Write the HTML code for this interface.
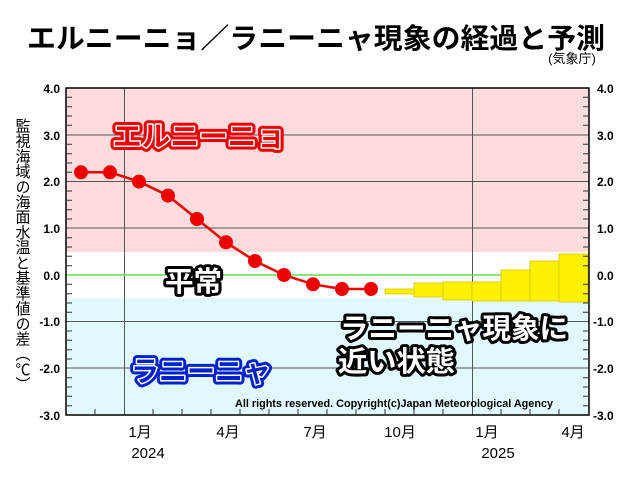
<!DOCTYPE html>
<html><head><meta charset="utf-8"><style>
html,body{margin:0;padding:0;background:#fff;}
svg{display:block;font-family:"Liberation Sans","Noto Sans CJK JP",sans-serif;}
</style></head><body>
<svg width="640" height="480" viewBox="0 0 640 480" xmlns="http://www.w3.org/2000/svg">
<text x="316" y="48" font-size="28" font-weight="bold" text-anchor="middle" textLength="578" lengthAdjust="spacingAndGlyphs" fill="#000">エルニーニョ／ラニーニャ現象の経過と予測</text>
<text x="572" y="63" font-size="13" text-anchor="middle" fill="#000">(気象庁)</text>
<!-- background bands -->
<rect x="66" y="88" width="523" height="164" fill="#fcdcdc"/>
<rect x="66" y="252" width="523" height="46" fill="#fff"/>
<rect x="66" y="298" width="523" height="117" fill="#e2f9fc"/>
<!-- grid -->
<g stroke="#555" stroke-width="1">
<line x1="66" x2="589" y1="135" y2="135"/>
<line x1="66" x2="589" y1="181.5" y2="181.5"/>
<line x1="66" x2="589" y1="228" y2="228"/>
<line x1="66" x2="589" y1="321.5" y2="321.5"/>
<line x1="66" x2="589" y1="368" y2="368"/>
<line x1="124.5" x2="124.5" y1="88" y2="415"/>
<line x1="472.5" x2="472.5" y1="88" y2="415"/>
</g>
<line x1="66" x2="589" y1="275" y2="275" stroke="#66dd55" stroke-width="1.5"/>
<!-- yellow forecast -->
<g fill="#fff200" stroke="#d8c400" stroke-width="0.8">
<rect x="385" y="289" width="29" height="5"/>
<rect x="414" y="283" width="29" height="14"/>
<rect x="443" y="282" width="29" height="18"/>
<rect x="472" y="282" width="29" height="19"/>
<rect x="501" y="270" width="29" height="31"/>
<rect x="530" y="261" width="29" height="40"/>
<rect x="559" y="254" width="29" height="48"/>
</g>
<!-- series -->
<polyline fill="none" stroke="#ee0000" stroke-width="2.5" points="81,172.3 110,172.3 139,181.6 168,195.6 197,219 226,242.3 255,261 284,275 313,284.3 342,289 371,289"/>
<g fill="#ee0000">
<circle cx="81" cy="172.3" r="7"/><circle cx="110" cy="172.3" r="7"/><circle cx="139" cy="181.6" r="7"/><circle cx="168" cy="195.6" r="7"/><circle cx="197" cy="219" r="7"/><circle cx="226" cy="242.3" r="7"/><circle cx="255" cy="261" r="7"/><circle cx="284" cy="275" r="7"/><circle cx="313" cy="284.3" r="7"/><circle cx="342" cy="289" r="7"/><circle cx="371" cy="289" r="7"/>
</g>
<!-- frame -->
<rect x="66" y="88" width="523" height="327" fill="none" stroke="#000" stroke-width="1.5"/>
<g stroke="#333" stroke-width="1">
<path d="M66,97.3h6M66,106.7h6M66,116h6M66,125.3h6M66,144.3h6M66,153.7h6M66,163h6M66,172.3h6M66,191h6M66,200.3h6M66,209.7h6M66,219h6M66,237.7h6M66,247h6M66,256.3h6M66,265.7h6M66,284.3h6M66,293.7h6M66,303h6M66,312.3h6M66,331h6M66,340.3h6M66,349.7h6M66,359h6M66,377.7h6M66,387h6M66,396.3h6M66,405.7h6"/>
<path d="M589,97.3h-6M589,106.7h-6M589,116h-6M589,125.3h-6M589,144.3h-6M589,153.7h-6M589,163h-6M589,172.3h-6M589,191h-6M589,200.3h-6M589,209.7h-6M589,219h-6M589,237.7h-6M589,247h-6M589,256.3h-6M589,265.7h-6M589,284.3h-6M589,293.7h-6M589,303h-6M589,312.3h-6M589,331h-6M589,340.3h-6M589,349.7h-6M589,359h-6M589,377.7h-6M589,387h-6M589,396.3h-6M589,405.7h-6"/>
<path d="M95,415v-6M153,415v-6M182,415v-6M211,415v-6M240,415v-6M269,415v-6M298,415v-6M327,415v-6M356,415v-6M385,415v-6M414,415v-6M443,415v-6M501,415v-6M530,415v-6M559,415v-6"/>
</g>
<!-- y labels -->
<g font-size="12" font-weight="bold" text-anchor="end" fill="#000">
<text x="60" y="93">4.0</text><text x="60" y="140">3.0</text><text x="60" y="186">2.0</text><text x="60" y="233">1.0</text><text x="60" y="280">0.0</text><text x="60" y="326">-1.0</text><text x="60" y="373">-2.0</text><text x="60" y="420">-3.0</text>
</g>
<g font-size="12" font-weight="bold" text-anchor="start" fill="#000">
<text x="597" y="93">4.0</text><text x="597" y="140">3.0</text><text x="597" y="186">2.0</text><text x="597" y="233">1.0</text><text x="597" y="280">0.0</text><text x="593" y="326">-1.0</text><text x="593" y="373">-2.0</text><text x="593" y="420">-3.0</text>
</g>
<!-- x labels -->
<g font-size="15" text-anchor="middle" fill="#000">
<text x="140" y="437">1月</text><text x="228" y="437">4月</text><text x="315" y="437">7月</text><text x="400" y="437">10月</text><text x="487" y="437">1月</text><text x="573" y="437">4月</text>
<text x="148" y="458">2024</text><text x="498" y="458">2025</text>
</g>
<!-- y axis title -->
<text x="22" y="118" font-size="15" fill="#000" style="writing-mode:vertical-rl;glyph-orientation-vertical:0" textLength="274" lengthAdjust="spacingAndGlyphs">監視海域の海面水温と基準値の差（℃）</text>
<!-- labels -->
<g font-size="28" font-weight="bold" stroke-linejoin="round">
<text x="113" y="146" textLength="172" lengthAdjust="spacingAndGlyphs" fill="#ee0000" stroke="#ee0000" stroke-width="9">エルニーニョ</text>
<text x="113" y="146" textLength="172" lengthAdjust="spacingAndGlyphs" fill="#ee0000" stroke="#fff" stroke-width="3" style="paint-order:stroke">エルニーニョ</text>
<text x="131" y="381" textLength="140" lengthAdjust="spacingAndGlyphs" fill="#0022cc" stroke="#0022cc" stroke-width="9">ラニーニャ</text>
<text x="131" y="381" textLength="140" lengthAdjust="spacingAndGlyphs" fill="#0022cc" stroke="#fff" stroke-width="3" style="paint-order:stroke">ラニーニャ</text>
<g fill="#fff" stroke="#000" stroke-width="6" style="paint-order:stroke">
<text x="165" y="291" textLength="57" lengthAdjust="spacingAndGlyphs">平常</text>
<text x="340" y="338" textLength="228" lengthAdjust="spacingAndGlyphs">ラニーニャ現象に</text>
<text x="338" y="371" textLength="117" lengthAdjust="spacingAndGlyphs">近い状態</text>
</g>
</g>
<text x="235" y="407" font-size="11" font-weight="bold" fill="#000" textLength="318" lengthAdjust="spacingAndGlyphs">All rights reserved. Copyright(c)Japan Meteorological Agency</text>
</svg>
</body></html>
